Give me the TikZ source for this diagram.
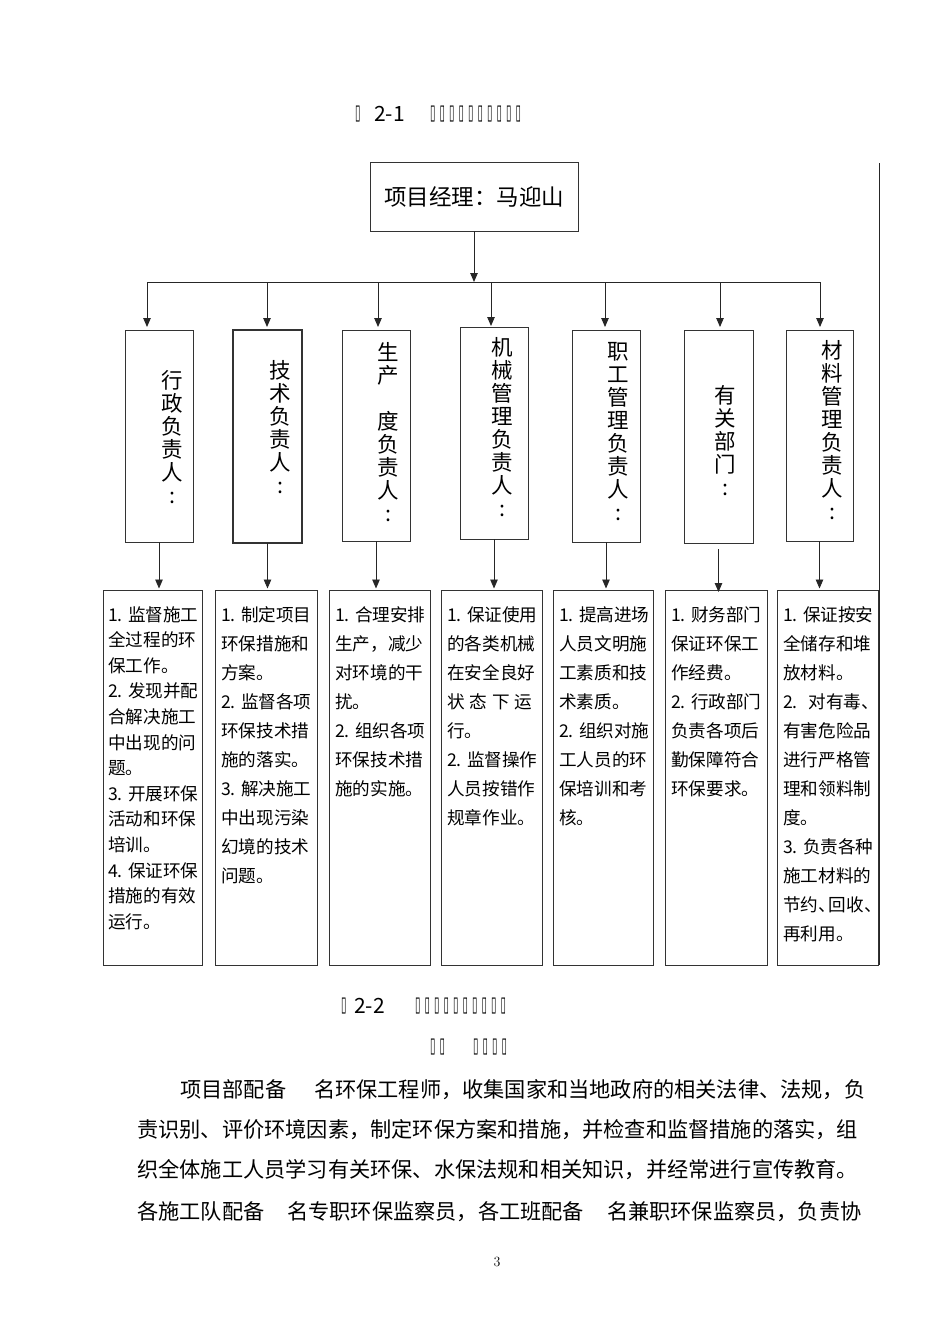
\documentclass[tikz,border=0pt]{standalone}
\usepackage{fontspec}
\usepackage{graphicx}
\newfontfamily\cjk{Noto Sans CJK SC}
\newfontfamily\dejavu{DejaVu Sans}
\usetikzlibrary{arrows.meta}
\newcommand\tofu{\makebox[9.5pt][l]{\resizebox{5.4pt}{13.5pt}{\dejavu ▯}}}
\begin{document}
\begin{tikzpicture}[x=1pt,y=-1pt,
  box/.style={draw=black!80, line width=0.9pt, inner sep=0pt, outer sep=0pt, anchor=north west},
  arr/.style={draw=black!85, line width=0.9pt, -{Triangle[length=9pt,width=7.5pt]}},
  ln/.style={draw=black!85, line width=0.9pt},
  vt/.style={font=\cjk\fontsize{21.5}{23}\selectfont, align=center, inner sep=0pt, anchor=north},
  bt/.style={font=\cjk\fontsize{17.6}{29}\selectfont, align=left, inner sep=0pt, anchor=north west},
  para/.style={font=\cjk\fontsize{21.2}{21.2}\selectfont, inner sep=0pt, anchor=west},
  ttl/.style={font=\cjk\fontsize{21}{21}\selectfont, inner sep=0pt, anchor=base west},
  tf/.style={inner sep=0pt, anchor=west}]
\fill[white] (0,0) rectangle (950,1344);
\useasboundingbox (0,0) rectangle (950,1344);

% title 1
\node[tf] (t1a) at (355,114.5) {\tofu};
\node[ttl] (t1b) at (374,121) {2-1};
\node[tf] (t1c) at (430,114.5) {\tofu\tofu\tofu\tofu\tofu\tofu\tofu\tofu\tofu\tofu};

% top box
\node[box, minimum width=208, minimum height=69, font=\cjk\fontsize{22.5}{22.5}\selectfont] (pm) at (370,162) {项目经理：马迎山};

% middle boxes
\node[box, minimum width=68, minimum height=212] (m1) at (125,330) {};
\node[box, minimum width=69, minimum height=213, line width=1.4pt] (m2) at (233,330) {};
\node[box, minimum width=68, minimum height=211] (m3) at (342,330) {};
\node[box, minimum width=68, minimum height=212] (m4) at (460,327) {};
\node[box, minimum width=68, minimum height=212] (m5) at (572,330) {};
\node[box, minimum width=69, minimum height=213] (m6) at (684,330) {};
\node[box, minimum width=67, minimum height=211] (m7) at (786,330) {};

\node[vt] (v1) at (172,370) {行\\政\\负\\责\\人\\:};
\node[vt] (v2) at (280,360) {技\\术\\负\\责\\人\\:};
\node[vt] (v3) at (388,342) {生\\产\\　\\度\\负\\责\\人\\:};
\node[vt] (v4) at (502,337) {机\\械\\管\\理\\负\\责\\人\\:};
\node[vt] (v5) at (618,342) {职\\工\\管\\理\\负\\责\\人\\:};
\node[vt] (v6) at (725,385) {有\\关\\部\\门\\:};
\node[vt] (v7) at (832,340) {材\\料\\管\\理\\负\\责\\人\\:};

% bottom boxes
\node[box, minimum width=99, minimum height=375] (b1) at (103,590) {};
\node[box, minimum width=102, minimum height=375] (b2) at (215,590) {};
\node[box, minimum width=101, minimum height=375] (b3) at (329,590) {};
\node[box, minimum width=101, minimum height=375] (b4) at (441,590) {};
\node[box, minimum width=100, minimum height=375] (b5) at (553,590) {};
\node[box, minimum width=102, minimum height=375] (b6) at (665,590) {};
\node[box, minimum width=101, minimum height=375] (b7) at (777,590) {};

\node[bt, font=\cjk\fontsize{17.6}{25.6}\selectfont] (x1) at (108,606) {1. 监督施工\\全过程的环\\保工作。\\2. 发现并配\\合解决施工\\中出现的问\\题。\\3. 开展环保\\活动和环保\\培训。\\4. 保证环保\\措施的有效\\运行。};
\node[bt] (x2) at (221,606) {1. 制定项目\\环保措施和\\方案。\\2. 监督各项\\环保技术措\\施的落实。\\3. 解决施工\\中出现污染\\幻境的技术\\问题。};
\node[bt] (x3) at (335,606) {1. 合理安排\\生产，减少\\对环境的干\\扰。\\2. 组织各项\\环保技术措\\施的实施。};
\node[bt] (x4) at (447,606) {1. 保证使用\\的各类机械\\在安全良好\\\makebox[4.85em][s]{状\hfill 态\hfill 下\hfill 运}\\行。\\2. 监督操作\\人员按错作\\规章作业。};
\node[bt] (x5) at (559,606) {1. 提高进场\\人员文明施\\工素质和技\\术素质。\\2. 组织对施\\工人员的环\\保培训和考\\核。};
\node[bt] (x6) at (671,606) {1. 财务部门\\保证环保工\\作经费。\\2. 行政部门\\负责各项后\\勤保障符合\\环保要求。};
\node[bt] (x7) at (783,606) {1. 保证按安\\全储存和堆\\放材料。\\2.\hspace{0.6em}对有毒、\\有害危险品\\进行严格管\\理和领料制\\度。\\3. 负责各种\\施工材料的\\节约、\kern-0.4em 回收、\\再利用。};

% connectors
\coordinate (bar) at (476,282);
\coordinate (d1) at (147,282);
\coordinate (d2) at (267,282);
\coordinate (d3) at (378,282);
\coordinate (d4) at (491,282);
\coordinate (d5) at (605,282);
\coordinate (d6) at (720,282);
\coordinate (d7) at (820,282);
\draw[arr] (pm.south) -- (pm.south |- bar);
\draw[ln] (d1) -- (d7);
\draw[arr, shorten >=3pt] (d1) -- (d1 |- m1.north);
\draw[arr, shorten >=3pt] (d2) -- (d2 |- m2.north);
\draw[arr, shorten >=3pt] (d3) -- (d3 |- m3.north);
\draw[arr, shorten >=1pt] (d4) -- (d4 |- m4.north);
\draw[arr, shorten >=3pt] (d5) -- (d5 |- m5.north);
\draw[arr, shorten >=3pt] (d6) -- (d6 |- m6.north);
\draw[arr, shorten >=3pt] (d7) -- (d7 |- m7.north);

\draw[arr, shorten >=1.5pt] (m1.south) -- (m1.south |- b1.north);
\draw[arr, shorten >=1.5pt] (m2.south) -- (m2.south |- b2.north);
\draw[arr, shorten >=1.5pt] (m3.south) -- (m3.south |- b3.north);
\draw[arr, shorten >=1.5pt] (m4.south) -- (m4.south |- b4.north);
\draw[arr, shorten >=1.5pt] (m5.south) -- (m5.south |- b5.north);
\draw[arr, shorten >=-2pt] ([yshift=-6pt]m6.south) -- (m6.south |- b6.north);
\draw[arr, shorten >=1.5pt] (m7.south) -- (m7.south |- b7.north);

\coordinate (fr) at (879,163);
\draw[ln] (fr) -- (fr |- b7.south);

% title 2
\node[tf] (t2a) at (341,1006.5) {\tofu};
\node[ttl] (t2b) at (354,1013) {2-2};
\node[tf] (t2c) at (415,1006.5) {\tofu\tofu\tofu\tofu\tofu\tofu\tofu\tofu\tofu\tofu};
\node[tf] (t3a) at (430,1047.5) {\tofu\tofu};
\node[tf] (t3b) at (473,1047.5) {\tofu\tofu\tofu\tofu};

% paragraph
\node[para] (p1) at (180,1090) {项目部配备\hspace{28pt}名环保工程师，收集国家和当地政府的相关法律、法规，负};
\node[para] (p2) at (137,1130) {责识别、评价环境因素，制定环保方案和措施，并检查和监督措施的落实，组};
\node[para] (p3) at (137,1170) {织全体施工人员学习有关环保、水保法规和相关知识，并经常进行宣传教育。};
\node[para] (p4) at (137,1212) {各施工队配备\hspace{23pt}名专职环保监察员，各工班配备\hspace{23pt}名兼职环保监察员，负责协};

\node[inner sep=0pt, font=\fontsize{14}{14}\selectfont] (pg) at (497,1262) {3};
\end{tikzpicture}
\end{document}
